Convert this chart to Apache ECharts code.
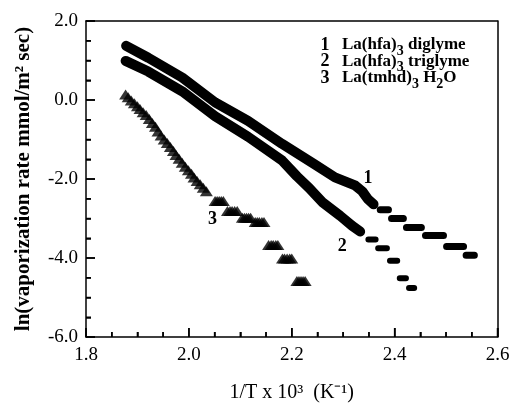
<!DOCTYPE html>
<html><head><meta charset="utf-8">
<script src="https://cdn.jsdelivr.net/npm/echarts@6/dist/echarts.min.js"></script>
<style>html,body{margin:0;padding:0;background:#fff}#c{width:513px;height:408px}</style>
</head><body><div id="c"></div>
<script>
// ---- data ----
const xTicks = [1.8, 2.0, 2.2, 2.4, 2.6];
const xMinorTicks = [1.85, 1.9, 1.95, 2.05, 2.1, 2.15, 2.25, 2.3, 2.35, 2.45, 2.5, 2.55];
const yTicks = [-6, -4, -2, 0, 2];
const yMinorTicks = [-5.5, -5, -4.5, -3.5, -3, -2.5, -1.5, -1, -0.5, 0.5, 1, 1.5];

// 1  La(hfa)3 diglyme : dense part [x, y]
const diglymeBody = [[1.878,1.37],[1.921,1.07],[1.987,0.57],[2.051,-0.06],[2.115,-0.53],[2.181,-1.11],[2.245,-1.63],[2.284,-1.96],[2.323,-2.16],[2.337,-2.31],[2.348,-2.51],[2.359,-2.64]];
// step plateaus [xStart, xEnd, y]
const diglymeSteps = [[2.372,2.388,-2.78],[2.394,2.417,-3.00],[2.423,2.452,-3.23],[2.460,2.495,-3.43],[2.501,2.534,-3.71],[2.539,2.555,-3.93]];

// 2  La(hfa)3 triglyme
const triglymeBody = [[1.877,0.99],[1.921,0.72],[1.987,0.22],[2.051,-0.41],[2.115,-0.93],[2.181,-1.53],[2.210,-1.93],[2.234,-2.23],[2.259,-2.58],[2.294,-2.93],[2.317,-3.18],[2.333,-3.33]];
const triglymeSteps = [[2.349,2.363,-3.53],[2.368,2.385,-3.75],[2.391,2.405,-4.07],[2.410,2.422,-4.51],[2.428,2.438,-4.76]];

// 3  La(tmhd)3 H2O (triangles)
const tmhdX = [1.877,1.882,1.888,1.894,1.900,1.905,1.911,1.917,1.923,1.929,1.935,1.940,1.946,1.952,1.958,1.964,1.970,1.975,1.981,1.987,1.993,1.999,2.005,2.010,2.016,2.022,2.028,2.034,
  2.051,2.055,2.059,2.063,2.067,
  2.075,2.080,2.084,2.089,2.094,
  2.104,2.108,2.112,2.116,2.120,
  2.129,2.133,2.137,2.142,2.146,
  2.155,2.160,2.164,2.169,2.173,
  2.182,2.186,2.191,2.196,2.200,
  2.210,2.214,2.218,2.222,2.226];
const tmhdY = [0.14,0.07,-0.01,-0.08,-0.16,-0.23,-0.31,-0.38,-0.48,-0.58,-0.68,-0.80,-0.90,-1.00,-1.09,-1.19,-1.29,-1.39,-1.49,-1.59,-1.69,-1.78,-1.87,-1.96,-2.05,-2.13,-2.22,-2.31,
  -2.56,-2.56,-2.56,-2.56,-2.56,
  -2.81,-2.81,-2.81,-2.81,-2.81,
  -2.98,-2.98,-2.98,-2.98,-2.98,
  -3.09,-3.09,-3.09,-3.09,-3.09,
  -3.67,-3.67,-3.67,-3.67,-3.67,
  -4.01,-4.01,-4.01,-4.01,-4.01,
  -4.58,-4.58,-4.58,-4.58,-4.58];

const curveLabels = [['1', 2.348, -1.98], ['2', 2.298, -3.71], ['3', 2.046, -3.03]];

// ---- chart ----
const FONT = 'Liberation Serif';
const X0 = xTicks[0], X1 = xTicks[xTicks.length - 1];
const Y0 = yTicks[0], Y1 = yTicks[yTicks.length - 1];
function stepsToData(steps) {
  const d = [];
  steps.forEach((s, i) => {
    if (i) d.push([s[0], '-']);
    d.push([s[0], s[2]]);
    d.push([s[1], s[2]]);
  });
  return d;
}

const chart = echarts.init(document.getElementById('c'));
const lineBase = (data, w) => ({
  type: 'line', data: data, showSymbol: false, symbol: 'none', silent: true,
  connectNulls: false,
  lineStyle: { color: '#000', width: w, cap: 'round', join: 'round' }
});
const labelStyle = { color: '#000', fontFamily: FONT, fontSize: 19, formatter: v => v.toFixed(1) };
const tickCfg = { show: true, inside: true, length: 9, lineStyle: { color: '#000', width: 1.5 } };
const minorCfg = { show: true, splitNumber: 4, length: 5, lineStyle: { color: '#000', width: 1.5 } };
const frameAxis = (extra) => Object.assign({
  type: 'value',
  axisLine: { show: true, onZero: false, lineStyle: { color: '#000', width: 1.5 } },
  axisTick: { show: false }, minorTick: { show: false },
  axisLabel: { show: false }, splitLine: { show: false }
}, extra);
const option = {
  animation: false,
  grid: { left: 86, right: 15.5, top: 21, bottom: 67 },
  xAxis: [{
    type: 'value',
    min: X0, max: X1, interval: 0.2,
    axisLine: { show: true, onZero: false, lineStyle: { color: '#000', width: 1.5 } },
    axisTick: tickCfg, minorTick: minorCfg,
    splitLine: { show: false },
    axisLabel: Object.assign({}, labelStyle, { margin: 9 }),
    name: '1/T x 10³  (K⁻¹)', nameLocation: 'middle', nameGap: 46,
    nameTextStyle: { color: '#000', fontFamily: FONT, fontSize: 20 }
  }, frameAxis({ position: 'top', min: X0, max: X1 })],
  yAxis: [{
    type: 'value',
    min: Y0, max: Y1, interval: 2,
    axisLine: { show: true, onZero: false, lineStyle: { color: '#000', width: 1.5 } },
    axisTick: tickCfg, minorTick: minorCfg,
    splitLine: { show: false },
    axisLabel: Object.assign({}, labelStyle, { margin: 8 }),
    name: 'ln(vaporization rate mmol/m² sec)', nameLocation: 'middle', nameGap: 52,
    nameTextStyle: { color: '#000', fontFamily: FONT, fontSize: 21, fontWeight: 'bold' }
  }, frameAxis({ position: 'right', min: Y0, max: Y1 })],
  series: [
    lineBase(diglymeBody, 10),
    lineBase(stepsToData(diglymeSteps), 7),
    lineBase(triglymeBody, 10),
    lineBase(stepsToData(triglymeSteps), 6),
    { type: 'scatter', silent: true, symbol: 'triangle', symbolSize: [13, 10],
      itemStyle: { color: '#000' },
      data: tmhdX.map((x, i) => [x, tmhdY[i]]) }
  ]
};
chart.setOption(option);

const graphics = [];
// tick marks as thin filled bars, placed through the axes' own scales
function addTick(x, y, len, vertical) {
  const p = chart.convertToPixel({ gridIndex: 0 }, [x, y]);
  graphics.push({ type: 'rect', silent: true, z: 100,
    shape: vertical ? { x: p[0] - 0.75, y: p[1] - len, width: 1.5, height: len }
                    : { x: p[0], y: p[1] - 0.75, width: len, height: 1.5 },
    style: { fill: '#000' } });
}
xTicks.forEach(v => addTick(v, Y0, 9, true));
xMinorTicks.forEach(v => addTick(v, Y0, 5, true));
yTicks.forEach(v => addTick(X0, v, 9, false));
yMinorTicks.forEach(v => addTick(X0, v, 5, false));

const rich = {
  t: { fontFamily: FONT, fontSize: 17, fontWeight: 'bold', color: '#000' },
  s: { fontFamily: FONT, fontSize: 14, fontWeight: 'bold', color: '#000', padding: [12, 0, 0, 0] }
};
const legendLines = [
  ['1', '{t|La(hfa)}{s|3}{t| diglyme}'],
  ['2', '{t|La(hfa)}{s|3}{t| triglyme}'],
  ['3', '{t|La(tmhd)}{s|3}{t| H}{s|2}{t|O}']
];
legendLines.forEach((l, i) => {
  const y = 45 + i * 16.5;
  graphics.push({ type: 'text', x: 325, y: y, silent: true,
    style: { text: l[0], font: 'bold 18px ' + FONT, fill: '#000', align: 'center', verticalAlign: 'middle' } });
  graphics.push({ type: 'text', x: 342, y: y, silent: true,
    style: { text: l[1], rich: rich, fill: '#000', align: 'left', verticalAlign: 'middle' } });
});
curveLabels.forEach(c => {
  const p = chart.convertToPixel({ gridIndex: 0 }, [c[1], c[2]]);
  graphics.push({ type: 'text', x: p[0], y: p[1], silent: true,
    style: { text: c[0], font: 'bold 18px ' + FONT, fill: '#000', align: 'center', verticalAlign: 'middle' } });
});
chart.setOption({ graphic: { elements: graphics } });
</script>
</body></html>
